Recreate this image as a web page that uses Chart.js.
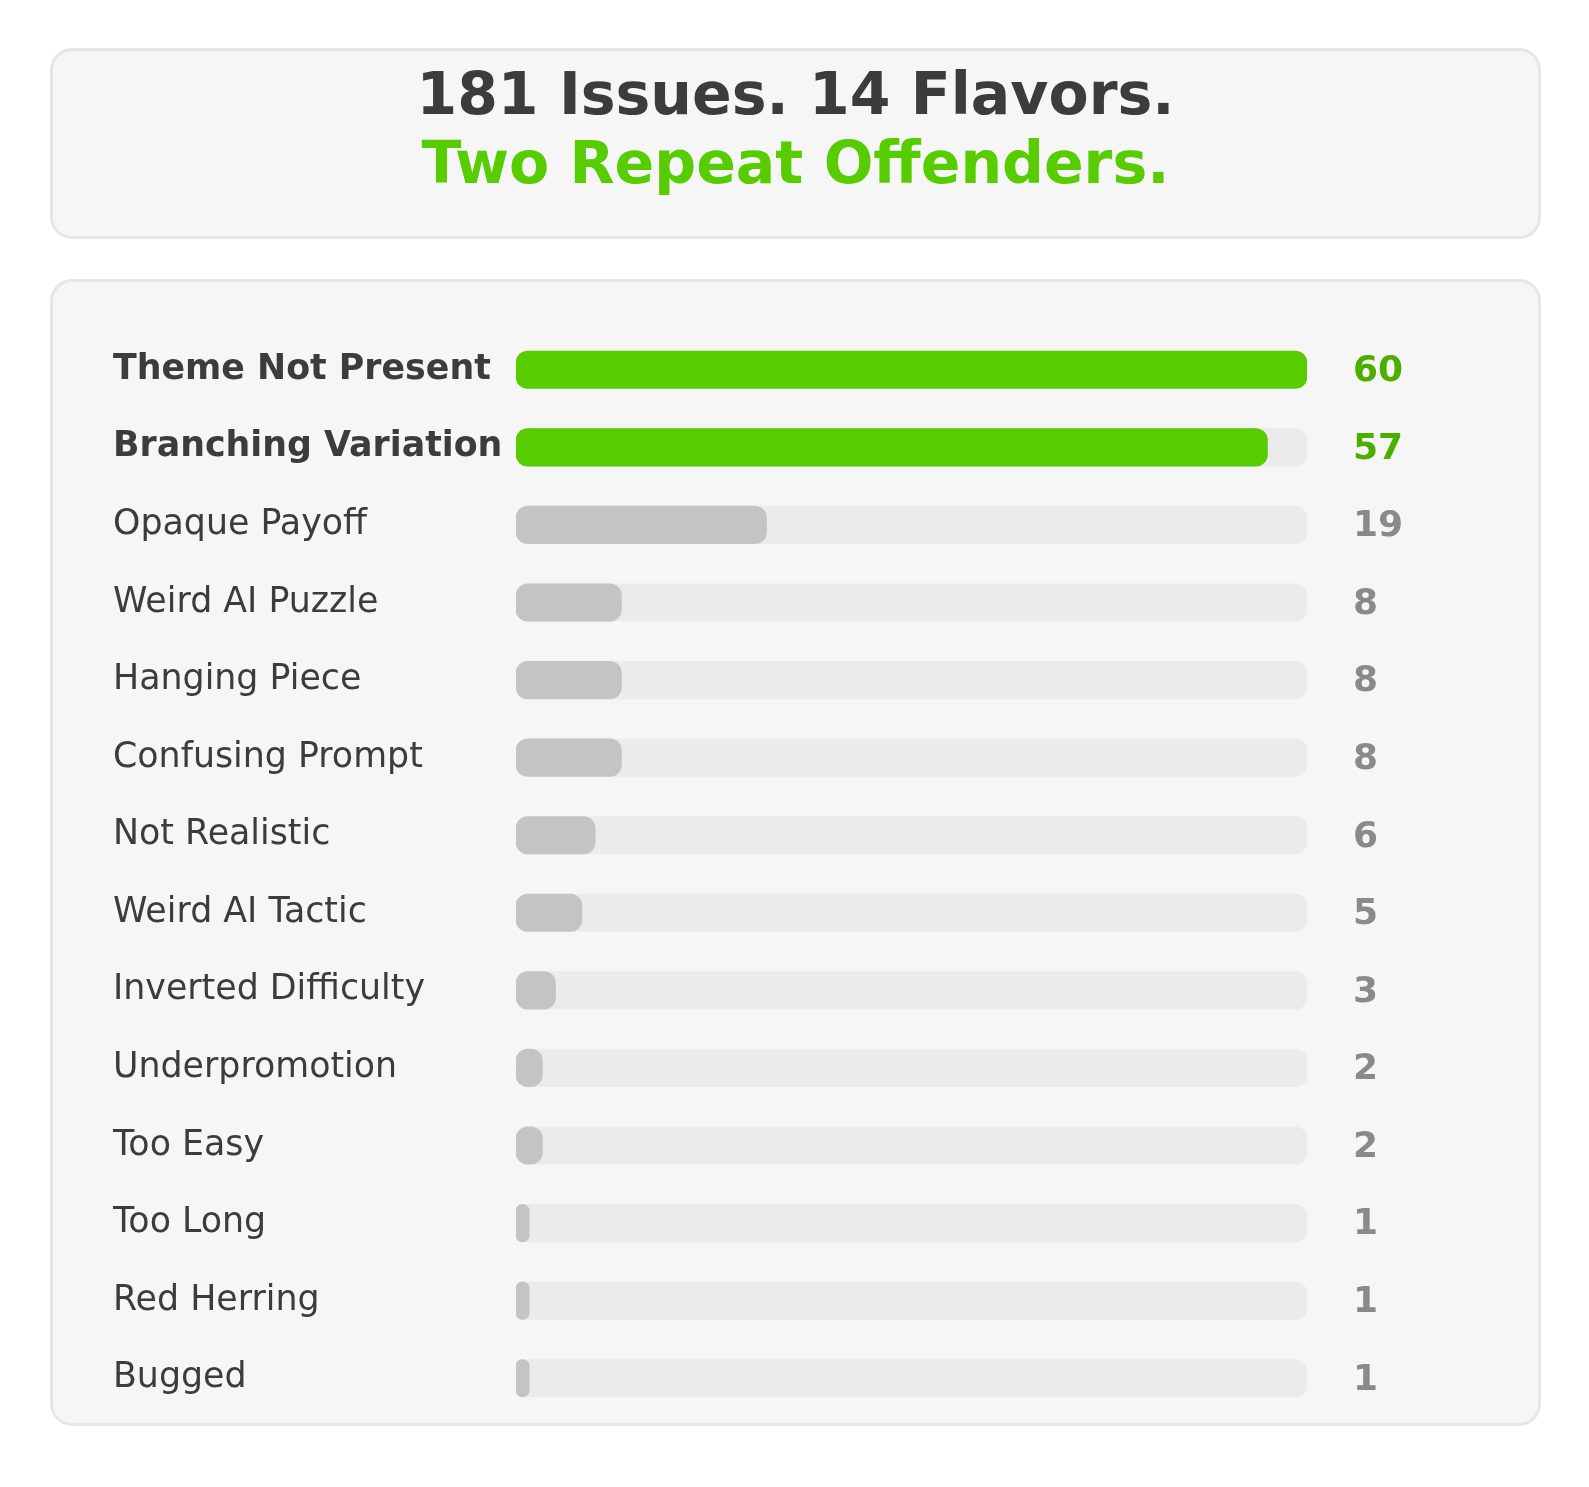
<!DOCTYPE html>
<html>
<head>
<meta charset="utf-8">
<script src="https://cdn.jsdelivr.net/npm/chart.js@4.4.1/dist/chart.umd.min.js"></script>
<style>
  html, body { margin: 0; padding: 0; background: #ffffff; }
  body { width: 1589px; height: 1487px; position: relative; overflow: hidden; font-family: "DejaVu Sans", sans-serif; }
  .panel { position: absolute; box-sizing: border-box; background: #f6f6f6; border: 3px solid #e6e6e6; border-radius: 22px; }
  #p1 { left: 50px; top: 48px; width: 1491px; height: 191px; }
  #p2 { left: 50px; top: 279px; width: 1491px; height: 1147px; }
  .title { position: absolute; left: 50px; width: 1491px; text-align: center; font-weight: bold; font-size: 58.5px; line-height: 69px; white-space: nowrap; }
  #t1 { top: 60px; color: #3c3c3c; }
  #t2 { top: 129px; color: #57cc00; }
  #c { position: absolute; left: 0; top: 0; }
</style>
</head>
<body>
<div class="panel" id="p1"></div>
<div class="panel" id="p2"></div>
<div class="title" id="t1">181 Issues. 14 Flavors.</div>
<div class="title" id="t2">Two Repeat Offenders.</div>
<canvas id="c" width="1589" height="1487"></canvas>
<script>
const categories = [
  "Theme Not Present", "Branching Variation", "Opaque Payoff", "Weird AI Puzzle",
  "Hanging Piece", "Confusing Prompt", "Not Realistic", "Weird AI Tactic",
  "Inverted Difficulty", "Underpromotion", "Too Easy", "Too Long", "Red Herring", "Bugged"
];
const counts = [60, 57, 19, 8, 8, 8, 6, 5, 3, 2, 2, 1, 1, 1];
const highlighted = [true, true, false, false, false, false, false, false, false, false, false, false, false, false];
const trackMax = 60;
const trackValues = categories.map(() => trackMax);

const GREEN = "#57cc00";
const GREEN_TEXT = "#4caf00";
const GRAY_BAR = "#c4c4c4";
const GRAY_TEXT = "#8a8a8a";
const TRACK = "#ebebeb";
const LABEL = "#3c3c3c";
const FONT = "'DejaVu Sans', sans-serif";

const valueLabels = {
  id: "valueLabels",
  afterDatasetsDraw(chart) {
    const ctx = chart.ctx;
    const y = chart.scales.y;
    const area = chart.chartArea;
    ctx.save();
    ctx.font = "bold 36px " + FONT;
    ctx.textAlign = "left";
    ctx.textBaseline = "middle";
    counts.forEach((v, i) => {
      ctx.fillStyle = highlighted[i] ? GREEN_TEXT : GRAY_TEXT;
      ctx.fillText(String(v), area.right + 46, y.getPixelForValue(i) + 2);
    });
    ctx.restore();
  }
};

new Chart(document.getElementById("c"), {
  type: "bar",
  data: {
    labels: categories,
    datasets: [
      {
        label: "Issues",
        data: counts,
        backgroundColor: highlighted.map(h => h ? GREEN : GRAY_BAR),
        borderRadius: 12,
        borderSkipped: false,
        grouped: false,
        barThickness: 37.5,
        order: 0
      },
      {
        label: "Track",
        data: trackValues,
        backgroundColor: TRACK,
        borderRadius: 12,
        borderSkipped: false,
        grouped: false,
        barThickness: 37.5,
        order: 1
      }
    ]
  },
  options: {
    indexAxis: "y",
    responsive: false,
    animation: false,
    devicePixelRatio: 1,
    layout: { padding: { left: 113, right: 282, top: 331, bottom: 70 } },
    plugins: { legend: { display: false }, tooltip: { enabled: false }, title: { display: false } },
    scales: {
      x: { display: false, min: 0, max: trackMax },
      y: {
        grid: { display: false },
        border: { display: false },
        afterFit(scale) { scale.width = 403; },
        ticks: {
          crossAlign: "far",
          padding: 0,
          color: LABEL,
          font: (c) => ({ family: FONT, size: 34.8, weight: highlighted[c.index] ? "bold" : "normal" })
        }
      }
    }
  },
  plugins: [valueLabels]
});
</script>
</body>
</html>
